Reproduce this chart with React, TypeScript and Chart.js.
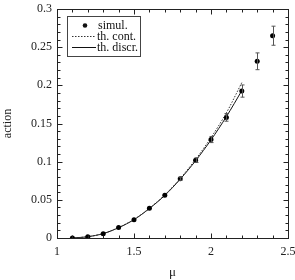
import React, { useEffect, useRef } from "react";
import { Chart, registerables } from "chart.js";

Chart.register(...registerables);

const simMu = [1.1, 1.2, 1.3, 1.4, 1.5, 1.6, 1.7, 1.8, 1.9, 2.0, 2.1, 2.2, 2.3, 2.4];
const simAction = [0, 0.0017, 0.0057, 0.0136, 0.024, 0.039, 0.056, 0.0776, 0.102, 0.129, 0.158, 0.1925, 0.2315, 0.265];
const simErr = [0.0005, 0.0005, 0.0006, 0.0008, 0.001, 0.0012, 0.0015, 0.002, 0.003, 0.004, 0.005, 0.008, 0.011, 0.0125];

const thMu = [1.1, 1.2, 1.3, 1.4, 1.5, 1.6, 1.7, 1.8, 1.9, 2.0, 2.1, 2.2];
const thCont = [0, 0.0017, 0.0058, 0.0137, 0.0243, 0.039, 0.0565, 0.078, 0.103, 0.1315, 0.164, 0.2035];
const thDiscr = [0, 0.0017, 0.0057, 0.0135, 0.024, 0.0386, 0.0558, 0.077, 0.1012, 0.1285, 0.159, 0.193];

const seriesLabels = ["simul.", "th. cont.", "th. discr."];
const xTitle = "μ";
const yTitle = "action";

const SERIF = "'Liberation Serif', 'Times New Roman', serif";

const zeroPad = (s: any) => {
  s.paddingLeft = 0;
  s.paddingRight = 0;
  s.paddingTop = 0;
  s.paddingBottom = 0;
};

const framePlugin = {
  id: "frame",
  afterDatasetsDraw(chart: any) {
    const { ctx, chartArea: a, scales } = chart;
    const xs = scales.x;
    const ys = scales.y;
    ctx.save();
    ctx.strokeStyle = "#555";
    ctx.lineWidth = 1;
    simMu.forEach((m, i) => {
      const e = simErr[i];
      if (e < 0.002) return;
      const px = Math.round(xs.getPixelForValue(m)) + 0.5;
      const y1 = ys.getPixelForValue(simAction[i] + e);
      const y2 = ys.getPixelForValue(simAction[i] - e);
      ctx.beginPath();
      ctx.moveTo(px, y1);
      ctx.lineTo(px, y2);
      ctx.moveTo(px - 2, y1);
      ctx.lineTo(px + 2, y1);
      ctx.moveTo(px - 2, y2);
      ctx.lineTo(px + 2, y2);
      ctx.stroke();
    });
    ctx.strokeStyle = "#222";
    ctx.lineWidth = 1;
    const L = Math.round(a.left) + 0.5;
    const R = Math.round(a.right) + 0.5;
    const T = Math.round(a.top) + 0.5;
    const B = Math.round(a.bottom) + 0.5;
    ctx.strokeRect(L, T, R - L, B - T);
    for (let k = 0; k <= 15; k++) {
      const v = 1 + k * 0.1;
      const major = k % 5 === 0;
      const len = major ? 5 : 3;
      const px = Math.round(xs.getPixelForValue(v)) + 0.5;
      ctx.beginPath();
      ctx.moveTo(px, B);
      ctx.lineTo(px, B - len);
      ctx.moveTo(px, T);
      ctx.lineTo(px, T + len);
      ctx.stroke();
    }
    for (let k = 0; k <= 30; k++) {
      const v = k * 0.01;
      const major = k % 5 === 0;
      const len = major ? 5 : 3;
      const py = Math.round(ys.getPixelForValue(v)) + 0.5;
      ctx.beginPath();
      ctx.moveTo(L, py);
      ctx.lineTo(L + len, py);
      ctx.moveTo(R, py);
      ctx.lineTo(R - len, py);
      ctx.stroke();
    }
    const bx = 67.5, by = 16.5, bw = 73, bh = 40;
    ctx.fillStyle = "#fff";
    ctx.fillRect(bx, by, bw, bh);
    ctx.strokeStyle = "#444";
    ctx.strokeRect(bx, by, bw, bh);
    ctx.font = `12px ${SERIF}`;
    ctx.fillStyle = "#111";
    ctx.textBaseline = "middle";
    ctx.textAlign = "left";
    const rows = [25.5, 36.5, 47.5];
    ctx.beginPath();
    ctx.arc(85, rows[0], 2.3, 0, Math.PI * 2);
    ctx.fill();
    ctx.fillText(seriesLabels[0], 98, rows[0]);
    ctx.strokeStyle = "#333";
    ctx.setLineDash([1.5, 1.5]);
    ctx.beginPath();
    ctx.moveTo(72, rows[1]);
    ctx.lineTo(96, rows[1]);
    ctx.stroke();
    ctx.setLineDash([]);
    ctx.fillText(seriesLabels[1], 97, rows[1]);
    ctx.strokeStyle = "#111";
    ctx.beginPath();
    ctx.moveTo(72, rows[2]);
    ctx.lineTo(96, rows[2]);
    ctx.stroke();
    ctx.fillText(seriesLabels[2], 97, rows[2]);
    ctx.restore();
  },
};

export default function App() {
  const ref = useRef<HTMLCanvasElement>(null);
  useEffect(() => {
    document.body.style.margin = "0";
    const canvas = ref.current!;
    const chart = new Chart(canvas, {
      type: "scatter",
      data: {
        datasets: [
          {
            label: seriesLabels[0],
            data: simMu.map((m, i) => ({ x: m, y: simAction[i] })),
            showLine: false,
            pointRadius: 2.5,
            pointBackgroundColor: "#000",
            pointBorderColor: "#000",
            pointBorderWidth: 0,
          },
          {
            label: seriesLabels[1],
            data: thMu.map((m, i) => ({ x: m, y: thCont[i] })),
            showLine: true,
            pointRadius: 0,
            borderColor: "#333",
            borderWidth: 1,
            borderDash: [1.5, 1.5],
            tension: 0.3,
          },
          {
            label: seriesLabels[2],
            data: thMu.map((m, i) => ({ x: m, y: thDiscr[i] })),
            showLine: true,
            pointRadius: 0,
            borderColor: "#111",
            borderWidth: 1,
            tension: 0.3,
          },
        ],
      },
      options: {
        animation: false,
        responsive: false,
        maintainAspectRatio: false,
        layout: { padding: { top: 9, right: 7, left: 0, bottom: 0 } },
        plugins: { legend: { display: false }, tooltip: { enabled: false } },
        scales: {
          x: {
            type: "linear",
            min: 1,
            max: 2.5,
            grid: { display: false, drawTicks: false },
            border: { display: false },
            ticks: {
              stepSize: 0.5,
              padding: 7,
              color: "#222",
              font: { family: SERIF, size: 12 },
              maxRotation: 0,
              callback: (v: any) => String(+Number(v).toFixed(2)),
            },
            title: {
              display: true,
              text: xTitle,
              color: "#222",
              font: { family: SERIF, size: 13 },
              padding: { top: 0, bottom: 0 },
            },
            afterFit: (s: any) => {
              s.height = 42;
              zeroPad(s);
            },
          },
          y: {
            type: "linear",
            min: 0,
            max: 0.3,
            grid: { display: false, drawTicks: false },
            border: { display: false },
            ticks: {
              stepSize: 0.05,
              padding: 5,
              color: "#222",
              font: { family: SERIF, size: 12 },
              callback: (v: any) => String(+Number(v).toFixed(2)),
            },
            title: {
              display: true,
              text: yTitle,
              color: "#222",
              font: { family: SERIF, size: 12 },
              padding: { top: 1, bottom: 0 },
            },
            afterFit: (s: any) => {
              s.width = 57;
              zeroPad(s);
            },
          },
        },
      },
      plugins: [framePlugin],
    });
    return () => chart.destroy();
  }, []);
  return <canvas ref={ref} width={295} height={280} style={{ display: "block" }} />;
}
